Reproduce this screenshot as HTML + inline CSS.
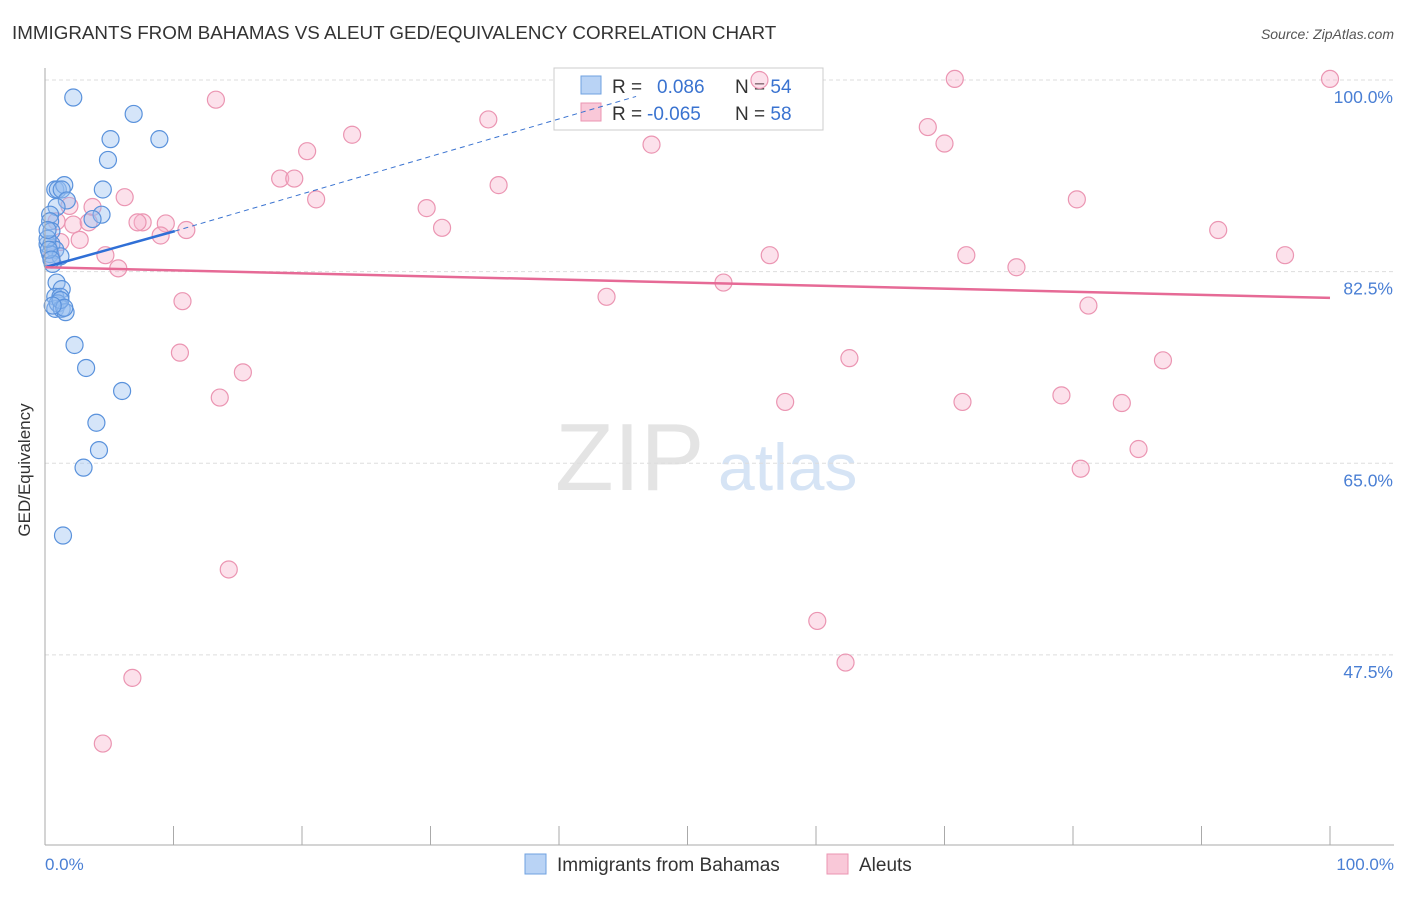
<!DOCTYPE html>
<html><head><meta charset="utf-8"><style>
body{margin:0;background:#fff;font-family:"Liberation Sans",sans-serif;}
svg text{font-family:"Liberation Sans",sans-serif;}
</style></head><body>
<svg id="c" width="1406" height="892" xmlns="http://www.w3.org/2000/svg">
<text x="12" y="39" font-size="18.8" fill="#333">IMMIGRANTS FROM BAHAMAS VS ALEUT GED/EQUIVALENCY CORRELATION CHART</text>
<text x="1394" y="39" font-size="14" fill="#555" font-style="italic" text-anchor="end">Source: ZipAtlas.com</text>
<text x="555" y="490" font-size="96" fill="#e4e4e4" font-family="Liberation Serif">ZIP</text>
<text x="718" y="490" font-size="66" fill="#d6e4f5">atlas</text>
<g id="grid"></g>
<g>
<rect x="554" y="68" width="269" height="62" fill="#fff" stroke="#ccc"/>
<rect x="581" y="76" width="20" height="18" fill="#b9d3f5" stroke="#6fa1e0"/>
<rect x="581" y="103" width="20" height="18" fill="#f9c8d8" stroke="#eb95b2"/>
<text x="612" y="93" font-size="19" fill="#333">R = <tspan fill="#3a73d0" x="657">0.086</tspan><tspan fill="#333" x="735">N = </tspan><tspan fill="#3a73d0">54</tspan></text>
<text x="612" y="120" font-size="19" fill="#333">R = <tspan fill="#3a73d0" x="647">-0.065</tspan><tspan fill="#333" x="735">N = </tspan><tspan fill="#3a73d0">58</tspan></text>
</g>
<g id="pts"></g><g id="lines"></g>
<line x1="45" y1="68" x2="45" y2="845" stroke="#aaa"/>
<line x1="45" y1="845" x2="1394" y2="845" stroke="#aaa"/>
<text x="20" y="460" font-size="17" fill="#333" transform="rotate(-90 30 460)" text-anchor="middle">GED/Equivalency</text>
<text x="45" y="870" font-size="17" fill="#4a7fd4">0.0%</text>
<text x="1394" y="870" font-size="17" fill="#4a7fd4" text-anchor="end">100.0%</text>
<g>
<rect x="525" y="854" width="21" height="20" fill="#b9d3f5" stroke="#6fa1e0"/>
<text x="557" y="871" font-size="19" fill="#333">Immigrants from Bahamas</text>
<rect x="827" y="854" width="21" height="20" fill="#f9c8d8" stroke="#eb95b2"/>
<text x="859" y="871" font-size="19" fill="#333">Aleuts</text>
</g>
</svg>
<script>
const yTicks=[100,82.5,65,47.5];
const yTickLabels=["100.0%","82.5%","65.0%","47.5%"];
const blueX=[2.2,6.9,5.1,8.9,4.9,0.8,1.0,1.5,4.5,1.3,1.7,0.9,0.4,4.4,3.7,0.4,0.5,0.2,0.5,0.8,0.4,1.2,0.6,0.9,1.3,0.8,1.2,0.8,1.0,1.3,1.6,2.3,3.2,6.0,4.0,4.2,3.0,1.4,0.2,0.3,0.5,0.2,1.2,1.5,0.6];
const blueY=[98.4,96.9,94.6,94.6,92.7,90.0,90.0,90.4,90.0,90.0,89.0,88.4,87.7,87.7,87.3,87.1,86.2,85.0,85.0,84.5,84.1,83.9,83.2,81.5,80.9,80.2,80.2,79.1,79.6,79.1,78.8,75.8,73.7,71.6,68.7,66.2,64.6,58.4,85.5,84.5,83.6,86.3,79.9,79.2,79.4];
const pinkX=[55.6,70.8,100,13.3,34.5,23.9,68.7,47.2,70.0,20.4,18.3,19.4,35.3,21.1,80.3,6.2,3.7,29.7,1.9,0.9,2.2,3.4,7.6,7.2,9.4,11.0,9.0,30.9,91.3,2.7,1.2,4.7,56.4,71.7,96.5,0.5,5.7,75.6,52.8,10.7,43.7,81.2,10.5,62.6,15.4,87.0,13.6,57.6,71.4,79.1,83.8,85.1,80.6,14.3,60.1,62.3,6.8,4.5];
const pinkY=[100,100.1,100.1,98.2,96.4,95.0,95.7,94.1,94.2,93.5,91.0,91.0,90.4,89.1,89.1,89.3,88.4,88.3,88.5,87.1,86.8,87.0,87.0,87.0,86.9,86.3,85.8,86.5,86.3,85.4,85.2,84.0,84.0,84.0,84.0,83.8,82.8,82.9,81.5,79.8,80.2,79.4,75.1,74.6,73.3,74.4,71.0,70.6,70.6,71.2,70.5,66.3,64.5,55.3,50.6,46.8,45.4,39.4];
const X=v=>45+v*12.85, Y=v=>80+(100-v)*10.95;
const NS="http://www.w3.org/2000/svg";
const grid=document.getElementById('grid');
yTicks.forEach((t,i)=>{
 const l=document.createElementNS(NS,'line');
 
 
 l.setAttribute('x1',45);l.setAttribute('x2',1394);l.setAttribute('y1',Y(t));l.setAttribute('y2',Y(t));
 l.setAttribute('stroke','#ddd');l.setAttribute('stroke-dasharray','4 3');grid.appendChild(l);
 const tx=document.createElementNS(NS,'text');
 
 
 tx.setAttribute('x',1393);tx.setAttribute('y',Y(t)+23);tx.setAttribute('text-anchor','end');
 tx.setAttribute('font-size','17.5');tx.setAttribute('fill','#4a7fd4');tx.textContent=yTickLabels[i];grid.appendChild(tx);
});
for(let i=1;i<=10;i++){
 const l=document.createElementNS(NS,'line');
 
 
 l.setAttribute('x1',X(i*10));l.setAttribute('x2',X(i*10));l.setAttribute('y1',826);l.setAttribute('y2',845);
 l.setAttribute('stroke','#aaa');grid.appendChild(l);
}
const pts=document.getElementById('pts');
function dots(xs,ys,fill,stroke,name){
 xs.forEach((x,i)=>{
  const c=document.createElementNS(NS,'circle');
  
  
  c.setAttribute('cx',X(x));c.setAttribute('cy',Y(ys[i]));c.setAttribute('r',8.5);
  c.setAttribute('fill',fill);c.setAttribute('stroke',stroke);c.setAttribute('stroke-width','1.2');
  pts.appendChild(c);
 });
}
dots(pinkX,pinkY,'rgba(248,180,205,0.4)','#eb95b2','aleuts-point');
dots(blueX,blueY,'rgba(150,190,240,0.4)','#5a92dc','bahamas-point');
const lines=document.getElementById('lines');
function ln(x1,y1,x2,y2,col,w,dash,name){
 const l=document.createElementNS(NS,'line');
 
 
 l.setAttribute('x1',X(x1));l.setAttribute('y1',Y(y1));l.setAttribute('x2',X(x2));l.setAttribute('y2',Y(y2));
 l.setAttribute('stroke',col);l.setAttribute('stroke-width',w);if(dash)l.setAttribute('stroke-dasharray',dash);
 lines.appendChild(l);
}
ln(10.1,86.2,46,98.5,'#3a73d0',1,'5 4','bahamas-trend-dashed');
ln(0,82.9,10.1,86.2,'#2f6fd6',2.5,null,'bahamas-trend');
ln(0,82.9,100,80.1,'#e66a96',2.5,null,'aleuts-trend');
</script>
</body></html>
